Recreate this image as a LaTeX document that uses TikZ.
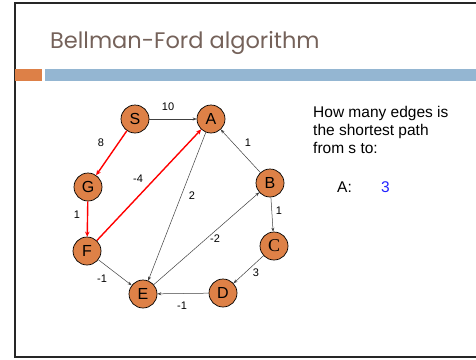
\documentclass[tikz,border=0pt]{standalone}
\usepackage{fontspec}
\setmainfont{Liberation Sans}
\newfontfamily\titlefont{Poppins}
\newfontfamily\letterfont{Liberation Serif}
\usetikzlibrary{arrows.meta}
\definecolor{nodeorange}{HTML}{DE8147}
\definecolor{barorange}{HTML}{DD8047}
\definecolor{barblue}{HTML}{94B6D2}
\definecolor{titlebrown}{HTML}{75625A}
\definecolor{answerblue}{HTML}{2222FF}

\begin{document}
\begin{tikzpicture}[x=1pt,y=-1pt,
  vertex/.style={circle,draw=black,line width=0.7pt,fill=nodeorange,
    minimum size=28pt,inner sep=0pt,font=\fontsize{16}{16}\selectfont},
  edge/.style={draw=black!75,line width=0.5pt,-{Stealth[length=4pt,width=3pt]}},
  tight/.style={draw=red,line width=1.4pt,-{Stealth[length=5pt,width=4.5pt]}},
  wt/.style={font=\fontsize{11}{11}\selectfont}]
  \useasboundingbox (0,0) rectangle (476,359);
  \draw[line width=2pt,color=black!85] (476,3) -- (15,3) -- (15,357) -- (476,357);
  \fill[barorange] (15,69) rectangle (42,81);
  \fill[barblue] (45,69) rectangle (476,81);
  \node[anchor=base west,inner sep=0pt,text=titlebrown,
    font=\titlefont\fontsize{22.5}{22.5}\selectfont] (title) at (50,48) {Bellman-Ford algorithm};

  \node[vertex] (S) at (135,119) {S};
  \node[vertex] (A) at (211,119) {A};
  \node[vertex] (G) at (88,187) {G};
  \node[vertex] (F) at (87,251) {F};
  \node[vertex] (B) at (270,183) {B};
  \node[vertex,font=\letterfont\fontsize{18}{18}\selectfont] (C) at (274,246) {C};
  \node[vertex] (D) at (223,293) {D};
  \node[vertex] (E) at (143,294) {E};

  \draw[edge] (S) -- (A);
  \draw[edge] (A) -- (E);
  \draw[edge] (B) -- (A);
  \draw[edge] (B) -- (C);
  \draw[edge] (E) -- (B);
  \draw[edge] (C) -- (D);
  \draw[edge] (D) -- (E);
  \draw[edge] (F) -- (E);
  \draw[tight] (S) -- (G);
  \draw[tight] (G) -- (F);
  \draw[tight] (F) -- (A);

  \node[wt] (wSA) at (168,107) {10};
  \node[wt] (wSG) at (101,143) {8};
  \node[wt] (wGF) at (77,215) {1};
  \node[wt] (wFA) at (138,179) {-4};
  \node[wt] (wAE) at (192,196) {2};
  \node[wt] (wBA) at (248,143) {1};
  \node[wt] (wBC) at (279,211) {1};
  \node[wt] (wEB) at (215,239) {-2};
  \node[wt] (wCD) at (256,273) {3};
  \node[wt] (wDE) at (182,306) {-1};
  \node[wt] (wFE) at (102,279) {-1};

  \node[anchor=base west,inner sep=0pt,align=left,
    font=\fontsize{15.5}{18}\selectfont] (question) at (313,153)
    {How many edges is\\the shortest path\\from s to:};
  \node[anchor=base west,inner sep=0pt,font=\fontsize{15.5}{18}\selectfont] (target) at (337,192) {A:};
  \node[anchor=base west,inner sep=0pt,text=answerblue,
    font=\fontsize{15.5}{18}\selectfont] (answer) at (381,192) {3};
\end{tikzpicture}
\end{document}
